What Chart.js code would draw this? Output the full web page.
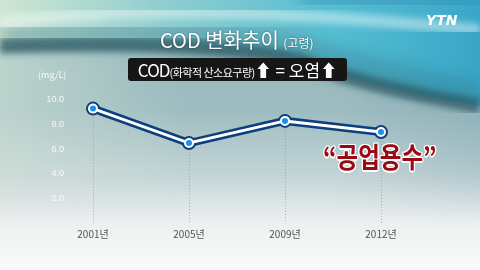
<!DOCTYPE html>
<html>
<head>
<meta charset="utf-8">
<script src="https://cdn.jsdelivr.net/npm/chart.js@4"></script>
<style>
  html, body { margin: 0; padding: 0; }
  body {
    width: 480px; height: 270px; overflow: hidden; position: relative;
    font-family: "Noto Sans CJK KR", "Noto Sans", sans-serif; background: #fafafa;
  }
  #bg { position: absolute; left: 0; top: 0; }
  #wrap { position: absolute; left: 0; top: 0; width: 480px; height: 270px; }
  .title {
    position: absolute; left: 160px; top: 25px; color: #fff; font-size: 20px;
    white-space: nowrap; text-shadow: 0 0 2px rgba(0,0,0,0.45);
  }
  .title small { font-size: 12px; }
  .box {
    position: absolute; left: 128px; top: 58px; width: 219px; height: 23px;
    background: #161616; border-radius: 3px; color: #fff;
    font-size: 17px; line-height: 23px; text-align: center; white-space: nowrap;
  }
  .box small { font-size: 11px; letter-spacing: -0.5px; }
  .box .c { letter-spacing: -1px; }
  .unit { position: absolute; left: 38px; top: 68px; font-size: 9px; color: rgba(255,255,255,0.9); }
  .hot {
    position: absolute; left: 323px; top: 136px; font-size: 28px; font-weight: bold;
    color: #9a0a14; white-space: nowrap; transform: scaleX(0.84); transform-origin: left top;
    text-shadow: -1.5px 0 #fff, 1.5px 0 #fff, 0 -1.5px #fff, 0 1.5px #fff, 1px 1px #fff, -1px -1px #fff, 1px -1px #fff, -1px 1px #fff;
  }
  .logo {
    position: absolute; left: 426px; top: 12px; font-family: "DejaVu Sans", sans-serif;
    font-size: 14px; font-weight: bold; font-style: italic; color: #fff;
  }
</style>
</head>
<body>
<svg id="bg" width="480" height="270">
  <defs>
    <linearGradient id="low" x1="0" y1="0" x2="0" y2="1">
      <stop offset="0" stop-color="#8db4b9"/>
      <stop offset="0.4" stop-color="#9dbcc0"/>
      <stop offset="0.65" stop-color="#c3d4d6"/>
      <stop offset="0.82" stop-color="#eceff0"/>
      <stop offset="1" stop-color="#fafafa"/>
    </linearGradient>
    <linearGradient id="lowH" x1="0" y1="0" x2="1" y2="0">
      <stop offset="0" stop-color="#e2eedc" stop-opacity="0.6"/>
      <stop offset="0.4" stop-color="#e2eedc" stop-opacity="0"/>
      <stop offset="0.7" stop-color="#4a7f98" stop-opacity="0"/>
      <stop offset="1" stop-color="#4a7f98" stop-opacity="0.25"/>
    </linearGradient>
    <linearGradient id="fade" x1="0" y1="0" x2="0" y2="1">
      <stop offset="0" stop-color="#fff" stop-opacity="1"/>
      <stop offset="0.75" stop-color="#fff" stop-opacity="0.6"/>
      <stop offset="1" stop-color="#fff" stop-opacity="0"/>
    </linearGradient>
    <mask id="fadeMask"><rect width="480" height="225" fill="url(#fade)"/></mask>
    <linearGradient id="sky" x1="0" y1="0" x2="1" y2="0">
      <stop offset="0" stop-color="#cfe6d2"/>
      <stop offset="0.35" stop-color="#8ecdd0"/>
      <stop offset="0.7" stop-color="#55bed2"/>
      <stop offset="1" stop-color="#3aa6c8"/>
    </linearGradient>
    <filter id="b3"><feGaussianBlur stdDeviation="3"/></filter>
    <filter id="b8"><feGaussianBlur stdDeviation="8"/></filter>
  </defs>
  <rect width="480" height="270" fill="url(#low)"/>
  <rect width="480" height="225" fill="url(#lowH)" mask="url(#fadeMask)"/>
  <path d="M0,0 H480 V106 C420,96 340,78 300,60 C220,44 120,42 0,46 Z" fill="url(#sky)"/>
  <path d="M0,22 C150,4 320,14 480,30" stroke="#effcfa" stroke-opacity="0.45" stroke-width="12" fill="none" filter="url(#b3)"/>
  <path d="M300,0 C380,2 440,6 480,4" stroke="#2a86b0" stroke-opacity="0.5" stroke-width="14" fill="none" filter="url(#b8)"/>
  <path d="M0,36 C120,32 220,32 300,48 C340,62 420,84 480,94" stroke="#2f6f7d" stroke-opacity="0.35" stroke-width="26" fill="none" filter="url(#b8)"/>
  <path d="M0,46 C120,42 220,44 300,60 C340,78 420,96 480,106" stroke="#2d5a64" stroke-opacity="0.75" stroke-width="15" fill="none" filter="url(#b3)"/>
</svg>
<div id="wrap"><canvas id="codChart" width="480" height="270"></canvas></div>
<div class="title">COD 변화추이 <small>(고령)</small></div>
<div class="box"><span class="c">COD</span><small>(화학적 산소요구량)</small>⬆ = 오염⬆</div>
<div class="unit">(mg/L)</div>
<div class="hot">“공업용수”</div>
<div class="logo">YTN</div>
<script>
const years = ['2001년', '2005년', '2009년', '2012년'];
const codValues = [9.3, 6.5, 8.3, 7.4];
const yTicks = [2, 4, 6, 8, 10];

// dotted drop lines from each point to the bottom of the plot
const dropLines = {
    id: 'dropLines',
    beforeDatasetsDraw(chart) {
        const { ctx, chartArea, scales } = chart;
        ctx.save();
        ctx.strokeStyle = 'rgba(140,150,150,0.7)';
        ctx.lineWidth = 1;
        ctx.setLineDash([1, 2]);
        codValues.forEach((v, i) => {
            const x = Math.round(scales.x.getPixelForValue(i)) + 0.5;
            ctx.beginPath();
            ctx.moveTo(x, scales.y.getPixelForValue(v));
            ctx.lineTo(x, chartArea.bottom);
            ctx.stroke();
        });
        ctx.restore();
    }
};

new Chart(document.getElementById('codChart'), {
    type: 'line',
    data: {
        labels: years,
        datasets: [{
            data: codValues,
            borderColor: '#ffffff',
            borderWidth: 3,
            pointRadius: 4,
            pointBackgroundColor: '#1c8fe6',
            pointBorderColor: '#ffffff',
            pointBorderWidth: 2,
            tension: 0,
            order: 0
        }, {
            data: codValues,
            borderColor: '#0b3f7e',
            borderWidth: 8,
            pointRadius: 7,
            pointBackgroundColor: '#0b3f7e',
            pointBorderWidth: 0,
            tension: 0,
            order: 1
        }]
    },
    options: {
        responsive: false,
        animation: false,
        layout: { padding: { left: 43, right: 99, top: 100, bottom: 0 } },
        plugins: { legend: { display: false }, tooltip: { enabled: false } },
        scales: {
            x: {
                offset: false,
                grid: { display: false, drawTicks: false },
                border: { display: false },
                ticks: { color: '#555', font: { size: 10, family: 'Noto Sans CJK KR' }, padding: 5 },
                afterFit: s => { s.height = 47; }
            },
            y: {
                min: 0, max: 10,
                afterBuildTicks: s => { s.ticks = yTicks.map(v => ({ value: v })); },
                grid: { display: false, drawTicks: false },
                border: { display: false },
                ticks: {
                    color: 'rgba(255,255,255,0.88)',
                    font: { size: 9, family: 'Liberation Sans' },
                    padding: 29,
                    callback: v => v.toFixed(1)
                },
                afterFit: s => { s.width = 50; }
            }
        }
    },
    plugins: [dropLines]
});
</script>
</body>
</html>
